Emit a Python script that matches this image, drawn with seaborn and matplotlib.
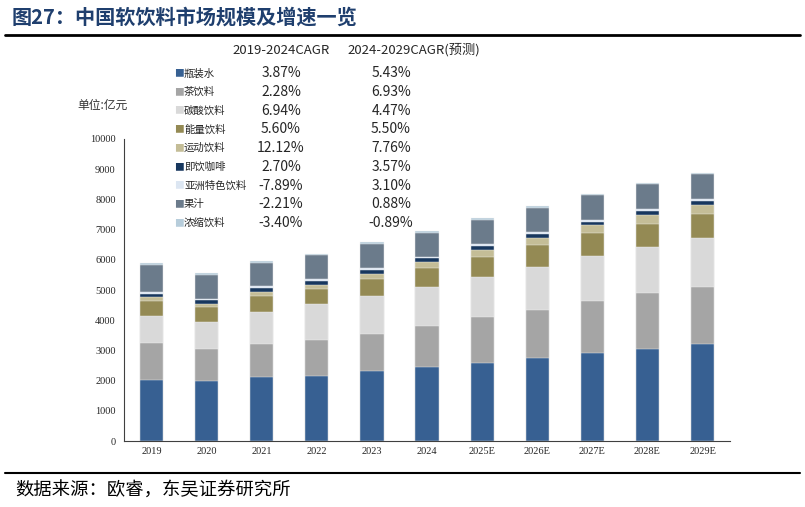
import numpy as np
import pandas as pd
import matplotlib
matplotlib.use("Agg")
import matplotlib.pyplot as plt
import seaborn as sns

years = ["2019", "2020", "2021", "2022", "2023", "2024",
         "2025E", "2026E", "2027E", "2028E", "2029E"]
categories = ["瓶装水", "茶饮料", "碳酸饮料", "能量饮料", "运动饮料",
              "即饮咖啡", "亚洲特色饮料", "果汁", "浓缩饮料"]

# market size by category, 亿元
bottled_water = [2018, 1985, 2117, 2160, 2306, 2438, 2590, 2735, 2921, 3043, 3198]
tea_drinks = [1214, 1048, 1102, 1181, 1244, 1366, 1502, 1609, 1700, 1843, 1906]
carbonated = [913, 904, 1058, 1181, 1247, 1280, 1343, 1433, 1509, 1542, 1601]
energy = [486, 496, 520, 506, 572, 628, 662, 717, 751, 772, 814]
sports = [122, 99, 142, 142, 165, 209, 243, 242, 254, 286, 310]
rtd_coffee = [100, 122, 122, 133, 123, 123, 111, 121, 132, 132, 132]
asian_specialty = [66, 61, 66, 57, 66, 53, 55, 67, 55, 56, 53]
juice = [903, 776, 771, 783, 794, 794, 827, 806, 816, 827, 818]
concentrates = [56, 56, 56, 53, 66, 56, 54, 54, 55, 55, 56]

cagr_19_24 = ["3.87%", "2.28%", "6.94%", "5.60%", "12.12%", "2.70%", "-7.89%", "-2.21%", "-3.40%"]
cagr_24_29 = ["5.43%", "6.93%", "4.47%", "5.50%", "7.76%", "3.57%", "3.10%", "0.88%", "-0.89%"]

colors = ["#376092", "#A5A5A5", "#D9D9D9", "#948A54", "#C4BD97",
          "#17375E", "#DCE6F2", "#6B7B8B", "#B7CDDB"]

series = [bottled_water, tea_drinks, carbonated, energy, sports,
          rtd_coffee, asian_specialty, juice, concentrates]
df = pd.DataFrame(dict(zip(categories, series)), index=years)
cum = df.cumsum(axis=1)

sns.set_theme(style="white")
plt.rcParams["font.family"] = ["Noto Sans CJK SC", "DejaVu Sans"]

fig = plt.figure(figsize=(8.05, 5.07), dpi=100)
ax = fig.add_axes([0.154, 0.130, 0.753, 0.596])

# stacked bars: draw cumulative totals from the top layer down
for cat, col in zip(reversed(categories), reversed(colors)):
    sns.barplot(x=years, y=cum[cat].values, color=col, width=0.42,
                saturation=1, edgecolor="#F2F2F2", linewidth=0.3, ax=ax)

ax.set_ylim(0, 10000)
ax.set_xlim(-0.5, 10.5)
ax.set_yticks(np.arange(0, 10001, 1000))
ax.tick_params(axis="y", direction="out", length=4, width=0.8, labelsize=7.5, pad=2)
ax.set_xticks(np.arange(-0.5, 10.6, 1), minor=True)
ax.tick_params(axis="x", which="major", length=0, labelsize=7.5, pad=4)
ax.tick_params(axis="x", which="minor", direction="out", length=4, width=0.8)
for lab in ax.get_xticklabels() + ax.get_yticklabels():
    lab.set_family("Liberation Serif")
for s in ["top", "right"]:
    ax.spines[s].set_visible(False)
for s in ["left", "bottom"]:
    ax.spines[s].set_color("#404040")
    ax.spines[s].set_linewidth(0.8)
ax.set_xlabel("")
ax.set_ylabel("")

fig.text(77 / 805, 1 - 105 / 507, "单位:亿元", fontsize=8.5, va="center", ha="left", color="#333333")

# title and rules
fig.text(12 / 805, 1 - 17 / 507, "图27：中国软饮料市场规模及增速一览", fontsize=14.5,
         fontweight="bold", color="#1F3F6E", va="center", ha="left")
fig.add_artist(plt.Line2D([5 / 805, 800 / 805], [1 - 35 / 507] * 2, color="black", lw=2))
fig.add_artist(plt.Line2D([5 / 805, 800 / 805], [1 - 473 / 507] * 2, color="black", lw=1.5))
fig.text(15 / 805, 1 - 491 / 507, "数据来源：欧睿，东吴证券研究所", fontsize=13.2,
         color="black", va="center", ha="left")

# CAGR table / legend
fig.text(281 / 805, 1 - 50 / 507, "2019-2024CAGR", fontsize=9.5, ha="center", va="center")
fig.text(347 / 805, 1 - 50 / 507, "2024-2029CAGR(预测)", fontsize=9.5, ha="left", va="center")
for i, (cat, col) in enumerate(zip(categories, colors)):
    y = 1 - (73.3 + i * 18.7) / 507
    fig.text(174 / 805, y, "■", color=col, fontsize=7, ha="left", va="center")
    fig.text(184 / 805, y, cat, fontsize=7.5, ha="left", va="center")
    fig.text(281 / 805, y, cagr_19_24[i], fontsize=10, ha="center", va="center")
    fig.text(391 / 805, y, cagr_24_29[i], fontsize=10, ha="center", va="center")

fig.savefig("out.png", dpi=100)
